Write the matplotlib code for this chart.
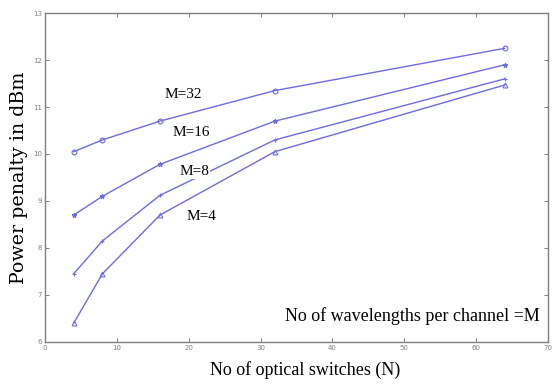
import matplotlib
import numpy as np

matplotlib.use("Agg")
import matplotlib.pyplot as plt


switches = [4, 8, 16, 32, 64]
penalty_m32 = [10.05, 10.3, 10.7, 11.35, 12.25]
penalty_m16 = [8.7, 9.1, 9.78, 10.7, 11.9]
penalty_m8 = [7.45, 8.15, 9.12, 10.3, 11.6]
penalty_m4 = [6.4, 7.45, 8.7, 10.05, 11.47]

series_labels = ["M=32", "M=16", "M=8", "M=4"]
label_positions = [(19.2, 11.26), (20.4, 10.45), (20.8, 9.62), (21.8, 8.66)]

x_ticks = [0, 10, 20, 30, 40, 50, 60, 70]
y_ticks = [6, 7, 8, 9, 10, 11, 12, 13]

LINE_COLOR = "#6c6ce6"
GREY = "#7f7f7f"
SERIF = ["Liberation Serif", "DejaVu Serif"]


def main() -> None:
    fig = plt.figure(figsize=(5.52, 3.85), dpi=100)
    ax = fig.add_axes([0.0815, 0.112, 0.911, 0.854])

    styles = [
        (penalty_m32, "o", "none"),
        (penalty_m16, "*", LINE_COLOR),
        (penalty_m8, "+", LINE_COLOR),
        (penalty_m4, "^", "none"),
    ]
    for values, marker, face in styles:
        ax.plot(
            switches,
            values,
            color=LINE_COLOR,
            linewidth=1.0,
            marker=marker,
            markersize=3.5,
            markerfacecolor=face,
            markeredgecolor=LINE_COLOR,
            markeredgewidth=0.8,
        )

    for text, (x, y) in zip(series_labels, label_positions):
        ax.text(
            x,
            y,
            text,
            family=SERIF,
            fontsize=11,
            ha="center",
            va="center",
            bbox=dict(facecolor="white", edgecolor="none", pad=0.5),
        )

    ax.text(
        68.9,
        6.55,
        "No of wavelengths per channel =M",
        family=SERIF,
        fontsize=13,
        ha="right",
        va="center",
    )

    ax.set_xlim(0, 70)
    ax.set_ylim(6, 13)
    ax.set_xticks(x_ticks)
    ax.set_yticks(y_ticks)
    ax.tick_params(
        direction="in",
        length=3,
        width=0.7,
        colors=GREY,
        labelsize=5,
        top=True,
        right=True,
        pad=2,
    )
    for spine in ax.spines.values():
        spine.set_color(GREY)
        spine.set_linewidth(1.0)

    fig.text(
        0.035,
        0.538,
        "Power penalty in dBm",
        family=["DejaVu Serif"],
        fontsize=13.7,
        rotation=90,
        ha="center",
        va="center",
    )
    fig.text(
        0.552,
        0.04,
        "No of optical switches (N)",
        family=SERIF,
        fontsize=13,
        ha="center",
        va="center",
    )

    fig.savefig("out.png", dpi=100)
    plt.close(fig)


if __name__ == "__main__":
    main()
